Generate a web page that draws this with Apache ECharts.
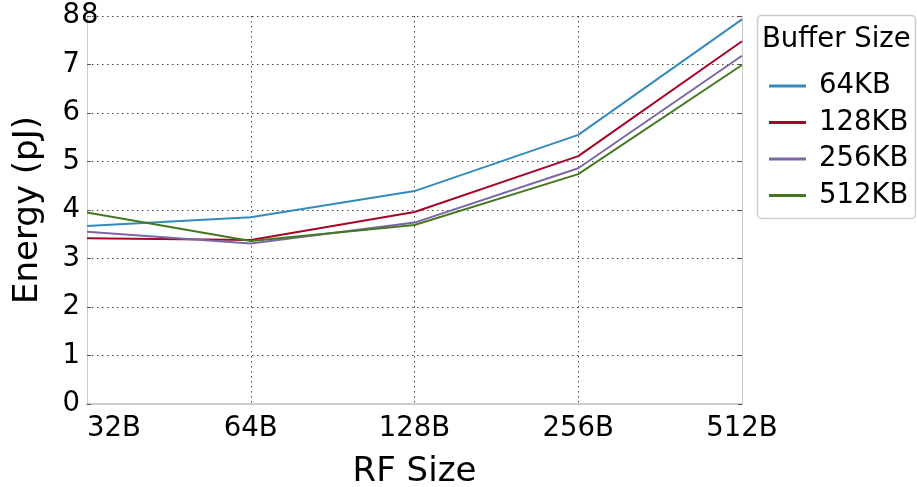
<!DOCTYPE html>
<html><head><meta charset="utf-8">
<script src="https://cdn.jsdelivr.net/npm/echarts@6/dist/echarts.min.js"></script>
<style>html,body{margin:0;padding:0;background:#fff}#c{width:917px;height:487px}</style>
</head><body><div id="c"></div>
<script>
const categories = ['32B', '64B', '128B', '256B', '512B'];
const seriesNames = ['64KB', '128KB', '256KB', '512KB'];
const kb64  = [3.67, 3.85, 4.39, 5.55, 7.93];
const kb128 = [3.42, 3.38, 3.96, 5.11, 7.48];
const kb256 = [3.55, 3.31, 3.74, 4.86, 7.18];
const kb512 = [3.95, 3.36, 3.69, 4.74, 6.99];
const yTicks = [0, 1, 2, 3, 4, 5, 6, 7, 8];
const colors = ['#348ABD', '#A60628', '#7A68A6', '#467821'];
const values = [kb64, kb128, kb256, kb512];

const FONT = 'DejaVu Sans';
const FS = 27.5;
const chart = echarts.init(document.getElementById('c'), null, {renderer: 'canvas'});
const gridSplit = {show: true, lineStyle: {color: '#444', type: [1.5, 3.5], width: 1}};
chart.setOption({
  backgroundColor: '#fff',
  animation: false,
  textStyle: {fontFamily: FONT},
  grid: {left: 87, right: 175, top: 16, bottom: 83, containLabel: false, outerBoundsMode: 'none'},
  title: {text: 'Buffer Size', left: 757, top: 21, textStyle: {fontFamily: FONT, fontSize: FS, fontWeight: 'normal', color: '#000'}},
  legend: {
    data: seriesNames, orient: 'vertical', left: 764, top: 67,
    icon: 'rect', itemWidth: 37, itemHeight: 3, itemGap: 8.5,
    textStyle: {fontFamily: FONT, fontSize: FS, color: '#000', padding: [0, 0, 0, 8]}
  },
  graphic: [
    {type: 'rect', shape: {x: 757.5, y: 15.5, width: 158, height: 203, r: 4}, style: {fill: '#fff', stroke: '#cccccc', lineWidth: 1.5}, z: -1},
    {type: 'text', left: 81, top: 2, style: {text: String(yTicks[yTicks.length - 1]), font: FS + 'px "DejaVu Sans"', fill: '#000'}, z: 10}
  ],
  xAxis: {
    type: 'category', data: categories, boundaryGap: false,
    name: 'RF Size', nameLocation: 'middle', nameGap: 51,
    nameTextStyle: {fontFamily: FONT, fontSize: 34, color: '#000'},
    axisLine: {show: true, lineStyle: {color: '#cccccc', width: 2}},
    axisTick: {show: false},
    axisLabel: {fontFamily: FONT, fontSize: FS, color: '#000', margin: 11, alignMinLabel: 'left'},
    splitLine: gridSplit
  },
  yAxis: [{
    type: 'value', min: 0, max: 8, interval: 1,
    name: 'Energy (pJ)', nameLocation: 'middle', nameGap: 42,
    nameTextStyle: {fontFamily: FONT, fontSize: 34, color: '#000'},
    axisLine: {show: true, lineStyle: {color: '#cccccc', width: 1}},
    axisTick: {show: true, inside: true, length: 4, lineStyle: {color: '#555'}},
    axisLabel: {fontFamily: FONT, fontSize: FS, color: '#000', margin: 7, formatter: v => String(v)},
    splitLine: gridSplit
  }, {
    type: 'value', min: 0, max: 8, interval: 1, position: 'right',
    axisLine: {show: true, lineStyle: {color: '#cccccc', width: 1}},
    axisTick: {show: true, inside: true, length: 4, lineStyle: {color: '#555'}},
    axisLabel: {show: false}, splitLine: {show: false}
  }],
  series: seriesNames.map((n, i) => ({
    name: n, type: 'line', data: values[i], showSymbol: false, symbol: 'none',
    lineStyle: {color: colors[i], width: 2}, itemStyle: {color: colors[i]}, z: 3
  }))
});
</script></body></html>
